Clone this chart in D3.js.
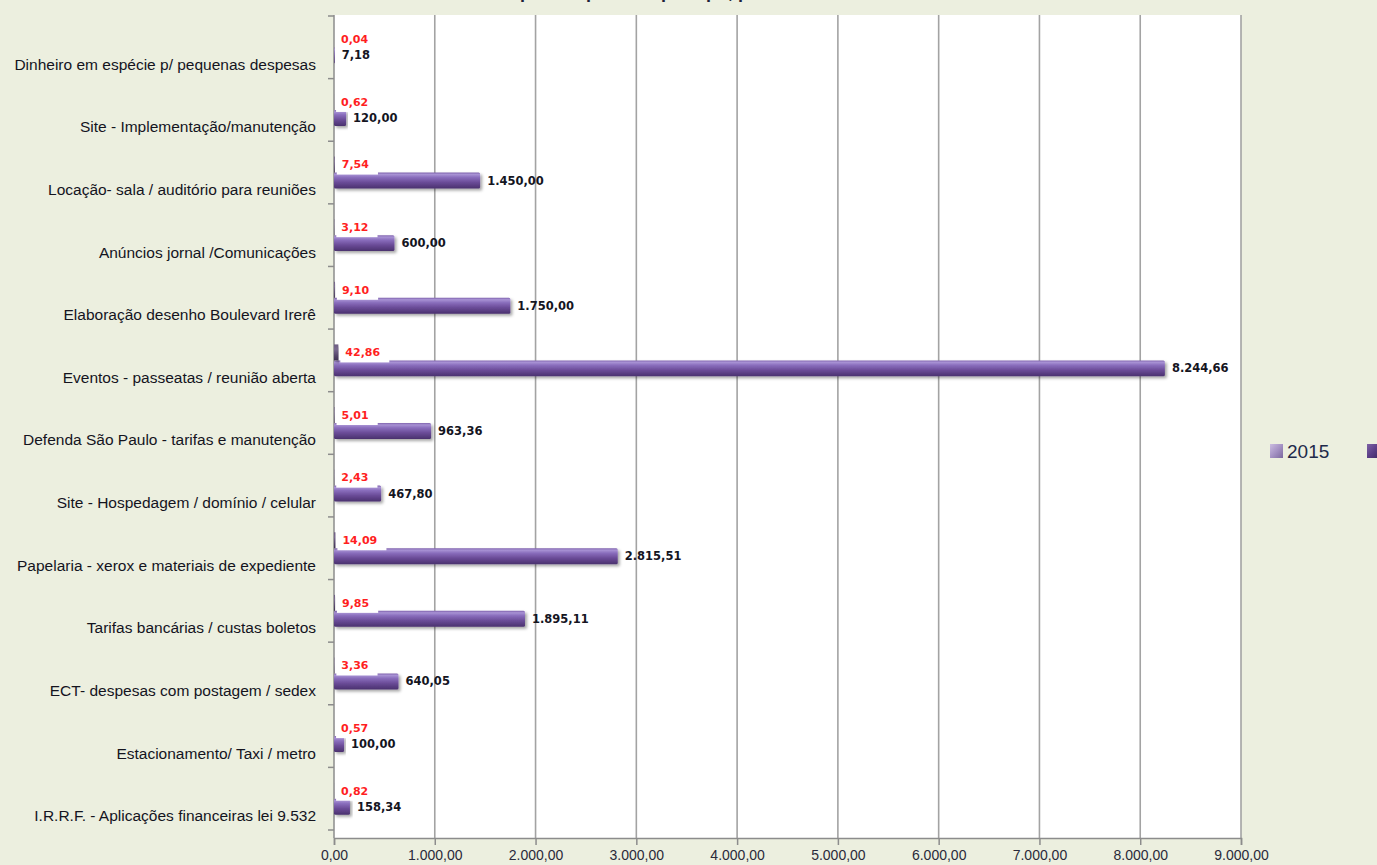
<!DOCTYPE html>
<html>
<head>
<meta charset="utf-8">
<script src="https://cdn.jsdelivr.net/npm/d3@7"></script>
<style>
  html, body { margin: 0; padding: 0; background: #ecefdf; overflow: hidden; }
  svg { display: block; }
</style>
</head>
<body>
<script>
const categories = [
  "Dinheiro em espécie p/ pequenas despesas",
  "Site - Implementação/manutenção",
  "Locação- sala / auditório para reuniões",
  "Anúncios jornal /Comunicações",
  "Elaboração desenho Boulevard Irerê",
  "Eventos - passeatas / reunião aberta",
  "Defenda São Paulo - tarifas e manutenção",
  "Site - Hospedagem / domínio / celular",
  "Papelaria - xerox e materiais de expediente",
  "Tarifas bancárias / custas boletos",
  "ECT- despesas com postagem / sedex",
  "Estacionamento/ Taxi / metro",
  "I.R.R.F. - Aplicações financeiras lei 9.532"
];
const values2015 = [7.18, 120.00, 1450.00, 600.00, 1750.00, 8244.66, 963.36, 467.80, 2815.51, 1895.11, 640.05, 100.00, 158.34];
const percents = [0.04, 0.62, 7.54, 3.12, 9.10, 42.86, 5.01, 2.43, 14.09, 9.85, 3.36, 0.57, 0.82];
const xTicks = [0, 1000, 2000, 3000, 4000, 5000, 6000, 7000, 8000, 9000];
const seriesNames = ["2015", "%"];

const width = 1377, height = 865;
const plot = { left: 334, right: 1241, top: 15, bottom: 838 };

const fmt = d3.formatLocale({ decimal: ",", thousands: ".", grouping: [3], currency: ["", ""] }).format(",.2f");

const svg = d3.select("body").append("svg")
  .attr("width", width)
  .attr("height", height);

const defs = svg.append("defs");
const gVal = defs.append("linearGradient").attr("id", "gVal")
  .attr("x1", 0).attr("y1", 0).attr("x2", 0).attr("y2", 1);
[[0, "#8063ae"], [0.12, "#a892d4"], [0.3, "#8a6ebd"], [0.62, "#6a4b97"], [1, "#4a316e"]]
  .forEach(s => gVal.append("stop").attr("offset", s[0]).attr("stop-color", s[1]));
const gPct = defs.append("linearGradient").attr("id", "gPct")
  .attr("x1", 0).attr("y1", 0).attr("x2", 0).attr("y2", 1);
[[0, "#6d5d82"], [0.3, "#7a6a90"], [0.7, "#56466b"], [1, "#3e3151"]]
  .forEach(s => gPct.append("stop").attr("offset", s[0]).attr("stop-color", s[1]));
const gLeg1 = defs.append("linearGradient").attr("id", "gLeg1")
  .attr("x1", 0).attr("y1", 0).attr("x2", 1).attr("y2", 1);
[[0, "#cbbde0"], [0.5, "#a592c4"], [1, "#7c689e"]]
  .forEach(s => gLeg1.append("stop").attr("offset", s[0]).attr("stop-color", s[1]));
const gLeg2 = defs.append("linearGradient").attr("id", "gLeg2")
  .attr("x1", 0).attr("y1", 0).attr("x2", 1).attr("y2", 1);
[[0, "#7d62a6"], [0.5, "#5b3e87"], [1, "#3f2762"]]
  .forEach(s => gLeg2.append("stop").attr("offset", s[0]).attr("stop-color", s[1]));
defs.append("filter").attr("id", "shadow")
  .attr("x", "-5%").attr("y", "-30%").attr("width", "120%").attr("height", "180%")
  .append("feDropShadow")
  .attr("dx", 2).attr("dy", 2).attr("stdDeviation", 1.4)
  .attr("flood-color", "#000").attr("flood-opacity", 0.35);

// title, mostly above the visible area as in the source image
svg.append("text")
  .attr("x", 668).attr("y", -2)
  .attr("text-anchor", "middle")
  .attr("font-family", "Liberation Sans, Arial, sans-serif")
  .attr("font-weight", "bold")
  .attr("font-size", 18)
  .attr("fill", "#1f1f3a")
  .text("Despesas apuradas por tipo, período 2015");

// plot area
svg.append("rect")
  .attr("x", plot.left).attr("y", plot.top)
  .attr("width", plot.right - plot.left).attr("height", plot.bottom - plot.top)
  .attr("fill", "#fff");

const x = d3.scaleLinear().domain([0, 9000]).range([plot.left, plot.right]);
const y = d3.scaleBand().domain(categories).range([16, 830]).paddingInner(0.49).paddingOuter(0.245);
const ySub = d3.scaleBand().domain(["pct", "val"]).range([0, y.bandwidth()]);

// vertical grid lines
svg.append("g")
  .selectAll("line")
  .data(xTicks.slice(1))
  .join("line")
  .attr("x1", d => x(d)).attr("x2", d => x(d))
  .attr("y1", plot.top).attr("y2", plot.bottom)
  .attr("stroke", "#a3a3a3").attr("stroke-width", 1.6);

// x axis
const xAxis = svg.append("g")
  .attr("transform", `translate(0,${plot.bottom})`)
  .call(d3.axisBottom(x).tickValues(xTicks).tickFormat(fmt).tickSize(7).tickPadding(5));
xAxis.select(".domain").attr("stroke", "#8c8c8c").attr("stroke-width", 1.5);
xAxis.selectAll(".tick line").attr("stroke", "#8c8c8c").attr("stroke-width", 1.5);
xAxis.selectAll(".tick text")
  .attr("font-family", "Liberation Sans Narrow, Arial Narrow, sans-serif")
  .attr("font-size", 14)
  .attr("fill", "#2a2a3a");

// y axis line and ticks at band boundaries
const step = y.step();
const yTickPos = d3.range(categories.length + 1).map(i => 16 + i * step);
svg.append("line")
  .attr("x1", plot.left).attr("x2", plot.left)
  .attr("y1", plot.top).attr("y2", plot.bottom)
  .attr("stroke", "#8c8c8c").attr("stroke-width", 1.5);
svg.append("g")
  .selectAll("line")
  .data(yTickPos)
  .join("line")
  .attr("x1", plot.left - 6).attr("x2", plot.left)
  .attr("y1", d => d).attr("y2", d => d)
  .attr("stroke", "#8c8c8c").attr("stroke-width", 1.5);

// category labels
svg.append("g")
  .selectAll("text")
  .data(categories)
  .join("text")
  .attr("x", 316)
  .attr("y", d => y(d) + y.bandwidth() / 2 + 17)
  .attr("dy", "0.35em")
  .attr("text-anchor", "end")
  .attr("font-family", "Liberation Sans, Arial, sans-serif")
  .attr("font-size", 15.5)
  .attr("fill", "#14141e")
  .text(d => d);

const rows = categories.map((c, i) => ({ cat: c, val: values2015[i], pct: percents[i] }));

// main bars
svg.append("g")
  .selectAll("rect")
  .data(rows)
  .join("rect")
  .attr("x", x(0))
  .attr("y", d => y(d.cat) + ySub("val"))
  .attr("width", d => x(d.val) - x(0))
  .attr("height", ySub.bandwidth())
  .attr("rx", 1.5)
  .attr("fill", "url(#gVal)")
  .attr("filter", "url(#shadow)");

// percentage bars
svg.append("g")
  .selectAll("rect")
  .data(rows)
  .join("rect")
  .attr("x", x(0))
  .attr("y", d => y(d.cat) + ySub("pct"))
  .attr("width", d => x(d.pct) - x(0))
  .attr("height", ySub.bandwidth())
  .attr("fill", "url(#gPct)")
  .attr("filter", "url(#shadow)");

// percentage labels with white boxes
const pctLab = svg.append("g")
  .selectAll("g")
  .data(rows)
  .join("g")
  .attr("transform", d => `translate(${x(d.pct) + 2},${y(d.cat) + ySub("pct") + ySub.bandwidth() / 2})`);
pctLab.append("rect")
  .attr("x", 0).attr("y", -8)
  .attr("width", d => fmt(d.pct).length * 7.8 + 10)
  .attr("height", 18)
  .attr("fill", "#fff");
pctLab.append("text")
  .attr("x", 5)
  .attr("dy", "0.35em")
  .attr("font-family", "DejaVu Sans, Verdana, sans-serif")
  .attr("font-weight", "bold")
  .attr("font-size", 11)
  .attr("fill", "#ff1f1f")
  .text(d => fmt(d.pct));

// value labels
svg.append("g")
  .selectAll("text")
  .data(rows)
  .join("text")
  .attr("x", d => x(d.val) + 7)
  .attr("y", d => y(d.cat) + ySub("val") + ySub.bandwidth() / 2)
  .attr("dy", "0.35em")
  .attr("font-family", "DejaVu Sans, Verdana, sans-serif")
  .attr("font-weight", "bold")
  .attr("font-size", 11.5)
  .attr("fill", "#15151f")
  .text(d => fmt(d.val));

// legend
const legend = svg.append("g")
  .selectAll("g")
  .data(seriesNames)
  .join("g")
  .attr("transform", (d, i) => `translate(${1270 + i * 97},444)`);
legend.append("rect")
  .attr("width", 13).attr("height", 14)
  .attr("fill", (d, i) => i === 0 ? "url(#gLeg1)" : "url(#gLeg2)");
legend.append("text")
  .attr("x", 17).attr("y", 7)
  .attr("dy", "0.35em")
  .attr("font-family", "Liberation Sans Narrow, Arial Narrow, sans-serif")
  .attr("font-size", 19)
  .attr("fill", "#1e2a4a")
  .text(d => d);
</script>
</body>
</html>
